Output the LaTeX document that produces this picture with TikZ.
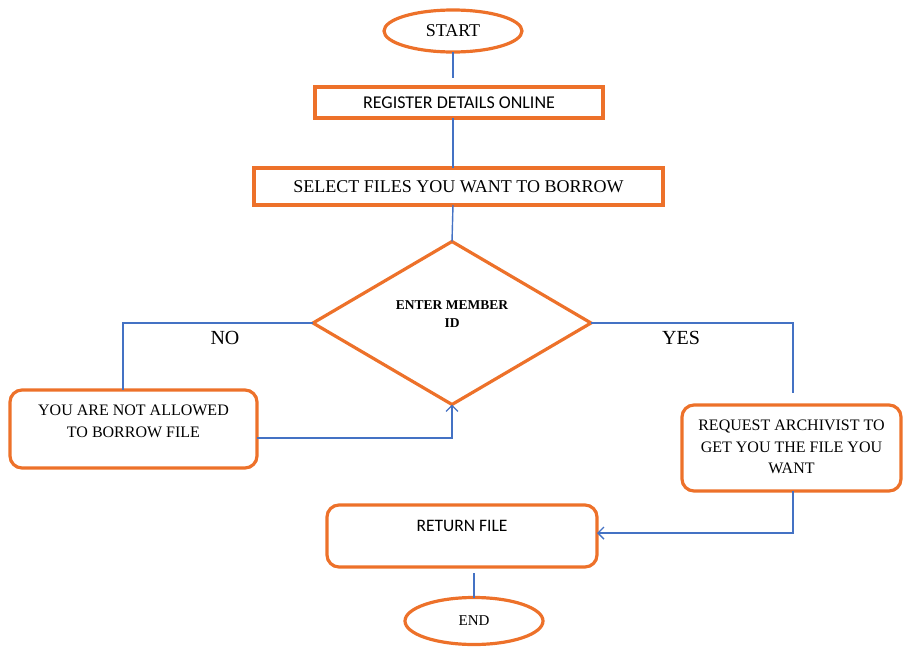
\documentclass[tikz,border=0pt]{standalone}
\usepackage{fontspec}
\setmainfont{Liberation Serif}
\newfontfamily\calibrifont{Carlito}
\usetikzlibrary{shapes.geometric,arrows.meta}
\definecolor{boxorange}{RGB}{237,113,42}
\definecolor{linkblue}{RGB}{68,114,196}

\begin{document}
\begin{tikzpicture}[
        x=1pt, y=-1pt,
        every node/.style={inner sep=0pt, outer sep=0pt},
        terminal/.style={ellipse, draw=boxorange, line width=3.2pt, minimum width=138pt},
        process/.style={rectangle, draw=boxorange, line width=3.2pt},
        roundbox/.style={process, rounded corners=12pt, align=center},
        decision/.style={diamond, aspect=1.7, draw=boxorange, line width=3.2pt, minimum width=278pt, minimum height=163pt, align=center},
        link/.style={draw=linkblue, line width=1.4pt},
        arrowlink/.style={link, -{Straight Barb[length=6pt,width=12pt]}},
        big/.style={font=\fontsize{18}{22}\selectfont},
        mid/.style={font=\fontsize{16}{21.5}\selectfont},
    ]
    \useasboundingbox (0,0) rectangle (903,648);

    % terminals and steps
    \node[terminal, big, minimum height=42pt] (start) at (453,31) {START};
    \node[process, minimum width=288pt, minimum height=31pt, font=\calibrifont\fontsize{18}{21}\selectfont] (register) at (459,102.5) {REGISTER DETAILS ONLINE};
    \node[process, big, minimum width=409pt, minimum height=37pt] (select) at (458.5,186.5) {SELECT FILES YOU WANT TO BORROW};
    \node[decision, font=\bfseries\fontsize{13.5}{18}\selectfont, text height=28pt, text depth=19pt] (check) at (452,323) {ENTER MEMBER\\ID};

    \node[roundbox, mid, minimum width=247pt, minimum height=78pt, text height=33pt, text depth=16.5pt] (deny) at (133.5,429) {YOU ARE NOT ALLOWED\\TO BORROW FILE};
    \node[roundbox, mid, minimum width=219pt, minimum height=86pt, text height=54pt, text depth=3pt] (approve) at (791.5,448) {REQUEST ARCHIVIST TO\\GET YOU THE FILE YOU\\WANT};
    \node[roundbox, minimum width=270pt, minimum height=62pt, text height=12pt, text depth=21pt, font=\calibrifont\fontsize{17.5}{21}\selectfont] (returnfile) at (462,536) {RETURN FILE};
    \node[terminal, minimum height=47pt, font=\fontsize{15}{18}\selectfont] (finish) at (474,621) {END};

    % branch labels
    \node[font=\fontsize{20}{24}\selectfont] (lblno) at (225,338) {NO};
    \node[font=\fontsize{20}{24}\selectfont] (lblyes) at (681,338) {YES};

    % connectors
    \draw[link, shorten >=9pt] (start) -- (start |- register.north);
    \draw[link] (start |- register.south) -- (start |- select.north);
    \draw[link] (start |- select.south) -- (check.north);
    \draw[link] (check.west) -| ([xshift=-10.5pt]deny.north);
    \draw[arrowlink] ([yshift=-9pt]deny.east) -| (check.south);
    \draw[link, shorten >=12pt] (check.east) -| ([xshift=1.5pt]approve.north);
    \draw[arrowlink] ([xshift=1.5pt]approve.south) |- ([yshift=3pt]returnfile.east);
    \draw[link, shorten <=6pt] (returnfile.south -| finish.north) -- (finish.north);
\end{tikzpicture}
\end{document}
